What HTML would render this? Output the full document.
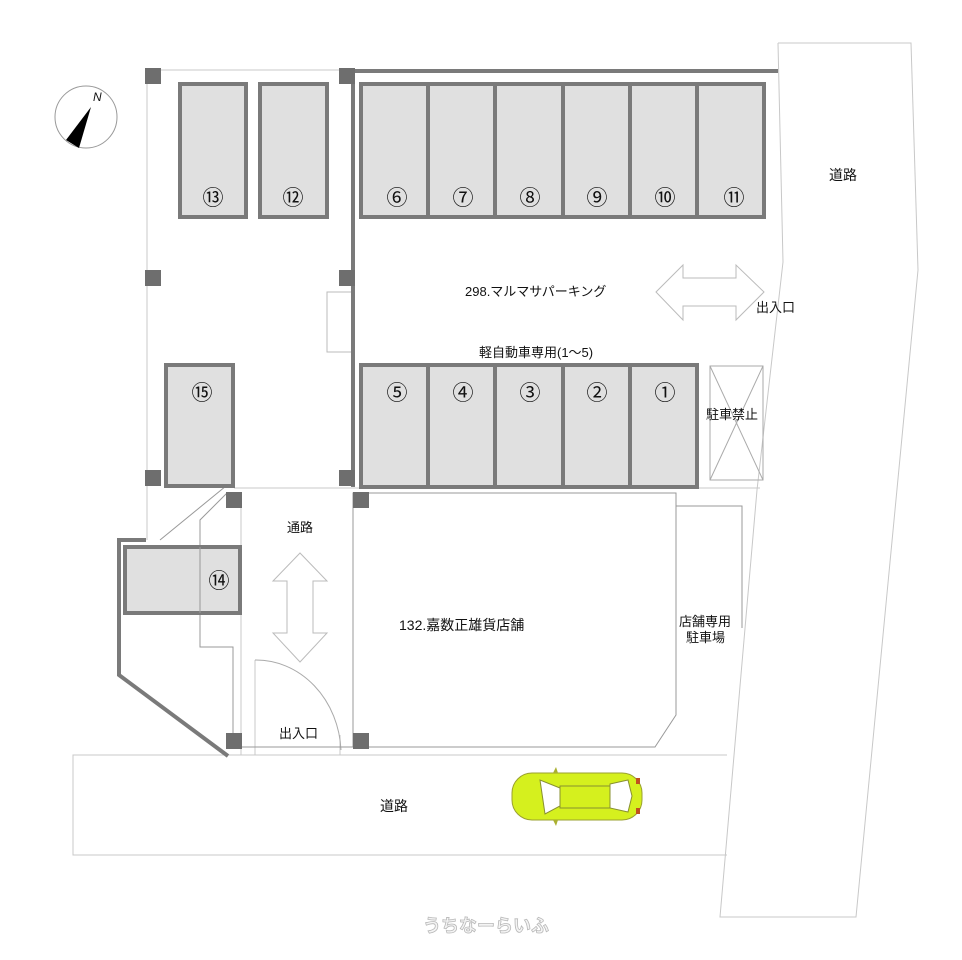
<!DOCTYPE html>
<html><head><meta charset="utf-8"><style>
html,body{margin:0;padding:0;background:#fff;}
svg{display:block;}
text{font-family:"Liberation Sans","Noto Sans CJK JP",sans-serif;fill:#111;}
.c{font-family:"Noto Sans CJK JP",sans-serif;}
</style></head><body>
<svg width="962" height="960" viewBox="0 0 962 960" xmlns="http://www.w3.org/2000/svg">
<g fill="none" stroke="#c8c8c8" stroke-width="1">
  <polyline points="778,43 911,43 918,270 856,917 720,917 757,490 783,262 778,43"/>
  <polyline points="727,755 73,755 73,855 727,855"/>
  <line x1="147" y1="70" x2="340" y2="70"/>
  <line x1="147" y1="70" x2="147" y2="540"/>
  <line x1="241" y1="492" x2="241" y2="755"/>
  <line x1="234" y1="488" x2="760" y2="488"/>
  <line x1="255" y1="660" x2="255" y2="755"/>
  <line x1="340" y1="735" x2="340" y2="755"/>
</g>
<g fill="none" stroke="#999" stroke-width="1">
  <polygon points="353,493 676,493 676,715 655,747 353,747"/>
  <polyline points="676,506 742,506 742,628"/>
  <polyline points="160,540 226,486"/>
  <polyline points="227,493 200,520 200,647 233,647 233,748"/>
  <rect x="327" y="292" width="25" height="60" stroke="#bbb"/>
  <path d="M255,660 A85,95 0 0 1 341,750" stroke="#aaa"/>
  <line x1="241" y1="747" x2="353" y2="747"/>
</g>
<g stroke="#7a7a7a" stroke-width="4" fill="none">
  <line x1="355" y1="71" x2="778" y2="71"/>
  <line x1="353" y1="70" x2="353" y2="487"/>
  <polyline points="146,540 119,540 119,675 228,756"/>
</g>
<g fill="#e0e0e0" stroke="#7a7a7a" stroke-width="4">
  <rect x="180" y="84" width="66" height="133"/>
  <rect x="260" y="84" width="67" height="133"/>
  <rect x="361" y="84" width="67" height="133"/>
  <rect x="428" y="84" width="67" height="133"/>
  <rect x="495" y="84" width="68" height="133"/>
  <rect x="563" y="84" width="67" height="133"/>
  <rect x="630" y="84" width="67" height="133"/>
  <rect x="697" y="84" width="67" height="133"/>
  <rect x="361" y="365" width="67" height="122"/>
  <rect x="428" y="365" width="67" height="122"/>
  <rect x="495" y="365" width="68" height="122"/>
  <rect x="563" y="365" width="67" height="122"/>
  <rect x="630" y="365" width="67" height="122"/>
  <rect x="166" y="365" width="67" height="121"/>
  <rect x="125" y="547" width="115" height="66"/>
</g>
<line x1="200" y1="547" x2="200" y2="613" stroke="#999" stroke-width="1"/>
<g fill="#6e6e6e">
  <rect x="145" y="68" width="16" height="16"/>
  <rect x="339" y="68" width="16" height="16"/>
  <rect x="145" y="270" width="16" height="16"/>
  <rect x="339" y="270" width="16" height="16"/>
  <rect x="145" y="470" width="16" height="16"/>
  <rect x="339" y="470" width="16" height="16"/>
  <rect x="226" y="492" width="16" height="16"/>
  <rect x="353" y="492" width="16" height="16"/>
  <rect x="226" y="733" width="16" height="16"/>
  <rect x="353" y="733" width="16" height="16"/>
</g>
<g fill="none" stroke="#aaa" stroke-width="1">
  <rect x="710" y="366" width="53" height="114"/>
  <line x1="710" y1="366" x2="763" y2="480"/>
  <line x1="763" y1="366" x2="710" y2="480"/>
</g>
<g fill="#fff" stroke="#bbb" stroke-width="1">
  <polygon points="656,292 683,265 683,278 736,278 736,265 764,292 736,320 736,306 683,306 683,320"/>
  <polygon points="300,553 327,581 313,581 313,633 327,633 300,662 273,633 287,633 287,581 273,581"/>
</g>
<circle cx="86" cy="117" r="31" fill="#fff" stroke="#999" stroke-width="1"/>
<polygon points="91,107 66,140 79,148" fill="#000"/>
<text x="93" y="101" font-size="12" font-style="italic" font-family="Liberation Serif,serif">N</text>
<g>
  <rect x="512" y="773" width="130" height="47" rx="20" fill="#d5f01e" stroke="#9aa030" stroke-width="1"/>
  <path d="M540,780 L545,814 L560,806 L560,788 Z" fill="#fff" stroke="#889030"/>
  <path d="M610,784 L628,780 L632,796 L628,812 L610,808 Z" fill="#fff" stroke="#889030"/>
  <rect x="560" y="786" width="50" height="22" fill="#d5f01e" stroke="#889030"/>
  <polygon points="553,773 556,767 558,773" fill="#aab030"/>
  <polygon points="553,820 556,826 558,820" fill="#aab030"/>
  <rect x="636" y="778" width="4" height="6" fill="#c05020"/>
  <rect x="636" y="808" width="4" height="6" fill="#c05020"/>
</g>
<g font-size="21" text-anchor="middle" class="c">
  <text class="c" x="213" y="205">⑬</text>
  <text class="c" x="293" y="205">⑫</text>
  <text class="c" x="397" y="205">⑥</text>
  <text class="c" x="463" y="205">⑦</text>
  <text class="c" x="530" y="205">⑧</text>
  <text class="c" x="597" y="205">⑨</text>
  <text class="c" x="665" y="205">⑩</text>
  <text class="c" x="734" y="205">⑪</text>
  <text class="c" x="397" y="400">⑤</text>
  <text class="c" x="463" y="400">④</text>
  <text class="c" x="530" y="400">③</text>
  <text class="c" x="597" y="400">②</text>
  <text class="c" x="665" y="400">①</text>
  <text class="c" x="202" y="400">⑮</text>
  <text class="c" x="219" y="588">⑭</text>
</g>
<g font-size="13">
  <text x="465" y="296">298.マルマサパーキング</text>
  <text x="479" y="357">軽自動車専用(1〜5)</text>
  <text x="756" y="312">出入口</text>
  <text x="706" y="419">駐車禁止</text>
  <text x="829" y="180" font-size="14">道路</text>
  <text x="287" y="532">通路</text>
  <text x="399" y="630" font-size="14">132.嘉数正雄貨店舗</text>
  <text x="679" y="626">店舗専用</text>
  <text x="686" y="642">駐車場</text>
  <text x="279" y="738">出入口</text>
  <text x="380" y="811" font-size="14">道路</text>
</g>
<text x="423" y="932" font-size="18" style="fill:#f4f4f4" stroke="#b8b8b8" stroke-width="0.8" font-weight="bold">うちなーらいふ</text>
</svg>
</body></html>
